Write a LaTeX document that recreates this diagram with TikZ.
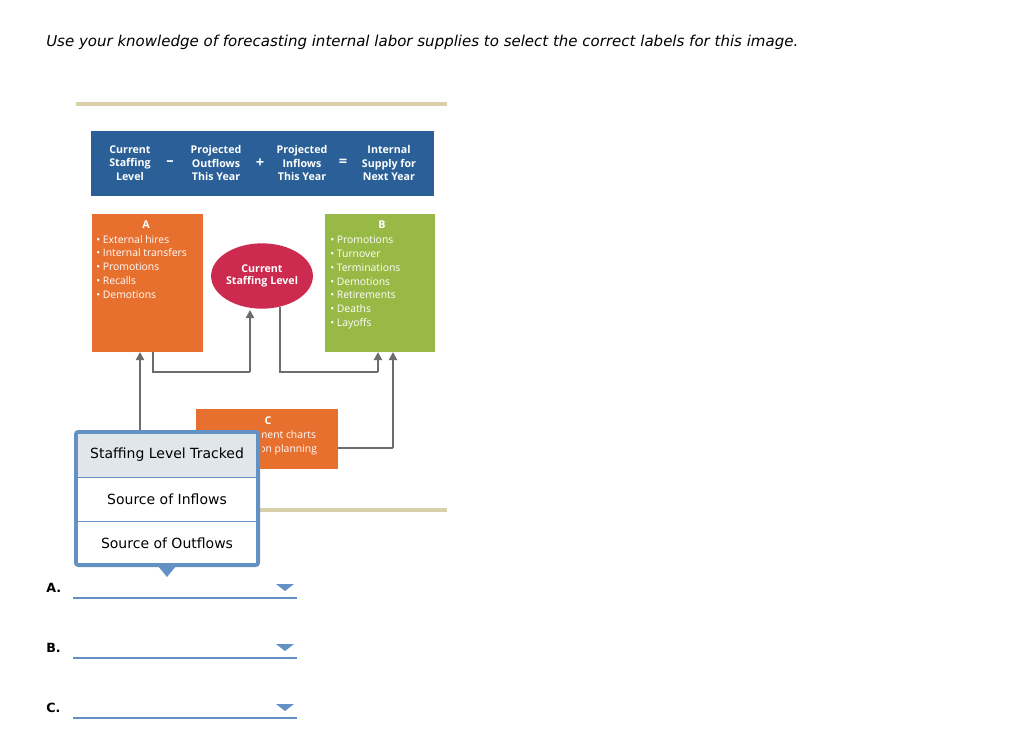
\documentclass[tikz,border=0pt]{standalone}
\usepackage{fontspec}
\setmainfont{DejaVu Sans}
\newfontfamily\os{Open Sans}
\usetikzlibrary{arrows.meta,shapes.geometric}
\begin{document}
\begin{tikzpicture}[x=0.75pt,y=-0.75pt,
  box/.style={inner sep=0,outer sep=0},
  wtxt/.style={text=white,font=\os\fontsize{7.8}{10.3}\selectfont,align=left,anchor=north west,inner sep=0},
  conn/.style={draw=gray!85!black,line width=1.5pt},
  arr/.style={conn,-{Triangle[length=6pt,width=6pt]}},
  dd/.style={draw=ddblue,line width=1.5pt},
  lab/.style={font=\bfseries\fontsize{9.5}{11}\selectfont,anchor=west,inner sep=0}]
\definecolor{hblue}{HTML}{2A6097}
\definecolor{aor}{HTML}{E8702F}
\definecolor{bgr}{HTML}{99B946}
\definecolor{ered}{HTML}{CC2A4E}
\definecolor{tan}{HTML}{D9CFA8}
\definecolor{ddblue}{HTML}{6391C4}
\definecolor{rowgray}{HTML}{E0E6EA}
\useasboundingbox (0,0) rectangle (1024,744);
\fill[white] (0,0) rectangle (1024,744);
\node[anchor=west,inner sep=0,font=\itshape\fontsize{11.25}{12}\selectfont] (title) at (46,42) {Use your knowledge of forecasting internal labor supplies to select the correct labels for this image.};
\fill[tan] (76,102) rectangle (447,106);
\fill[tan] (76,508) rectangle (447,512);
% header
\fill[hblue] (91,131) rectangle (434,196);
\begin{scope}[every node/.style={text=white,font=\os\bfseries\fontsize{8}{10.3}\selectfont,align=center,inner sep=0}]
\node (h1) at (130,163) {Current\\Staffing\\Level};
\node[font=\os\bfseries\fontsize{11}{12}\selectfont] at (170,163) {\textendash};
\node (h2) at (216,163) {Projected\\Outflows\\This Year};
\node[font=\os\bfseries\fontsize{11}{12}\selectfont] at (260,163) {+};
\node (h3) at (302,163) {Projected\\Inflows\\This Year};
\node[font=\os\bfseries\fontsize{11}{12}\selectfont] at (343,163) {=};
\node (h4) at (389,163) {Internal\\Supply for\\Next Year};
\end{scope}
% A
\node[box,fill=aor,minimum width=83.25pt,minimum height=103.5pt,anchor=north west] (A) at (92,214) {};
\node[text=white,font=\os\bfseries\fontsize{8}{9}\selectfont] at (146,225) {A};
\node[wtxt] at (96,235) {\textbullet\ External hires\\\textbullet\ Internal transfers\\\textbullet\ Promotions\\\textbullet\ Recalls\\\textbullet\ Demotions};
% B
\node[box,fill=bgr,minimum width=82.5pt,minimum height=103.5pt,anchor=north west] (B) at (325,214) {};
\node[text=white,font=\os\bfseries\fontsize{8}{9}\selectfont] at (382,225) {B};
\node[wtxt] at (330,236) {\textbullet\ Promotions\\\textbullet\ Turnover\\\textbullet\ Terminations\\\textbullet\ Demotions\\\textbullet\ Retirements\\\textbullet\ Deaths\\\textbullet\ Layoffs};
% ellipse
\node[ellipse,fill=ered,minimum width=71pt,minimum height=49pt,inner sep=0,text=white,font=\os\bfseries\fontsize{8}{9.5}\selectfont,align=center] (E) at (262,276) {Current\\Staffing Level};
% C
\node[box,fill=aor,minimum width=106.5pt,minimum height=45pt,anchor=north west] (C) at (196,409) {};
\node[text=white,font=\os\bfseries\fontsize{8}{9}\selectfont] at (268,421) {C};
\begin{scope}
\clip (262,425) rectangle (338,469);
\node[text=white,font=\os\fontsize{7.8}{10.3}\selectfont,align=center,inner sep=0] at (268,443) {Replacement charts\\Succession planning};
\end{scope}
% connectors
\coordinate (p1) at (140,440);
\draw[arr] (p1) -- (A.south -| 140,0);
\draw[conn] (A.south -| 153,0) -- (153,372) -- (250,372);
\draw[arr] (250,372) -- (250,310);
\draw[conn] (280,307) -- (280,372) -- (378,372);
\draw[arr] (378,372) -- (B.south -| 378,0);
\draw[conn] (C.east |- 0,448) -- (393,448);
\draw[arr] (393,448) -- (B.south -| 393,0);
% popup
\fill[ddblue,rounded corners=3pt] (74,430) rectangle (260,567);
\fill[ddblue] (158,566) -- (176,566) -- (167,577) -- cycle;
\fill[rowgray] (78,434) rectangle (256,477);
\fill[white] (78,478) rectangle (256,521);
\fill[white] (78,522) rectangle (256,563);
\begin{scope}[every node/.style={font=\fontsize{10.5}{12}\selectfont,inner sep=0}]
\node (o1) at (167,455) {Staffing Level Tracked};
\node (o2) at (167,499) {Source of Inflows};
\node (o3) at (167,543) {Source of Outflows};
\end{scope}
% answer lines
\foreach \l/\y in {A/598,B/658,C/718}{
  \node[lab] at (46,\y-10) {\l.};
  \draw[dd] (73,\y) -- (297,\y);
  \fill[ddblue] (276,\y-14) -- (294,\y-14) -- (285,\y-7) -- cycle;
}
\end{tikzpicture}
\end{document}
